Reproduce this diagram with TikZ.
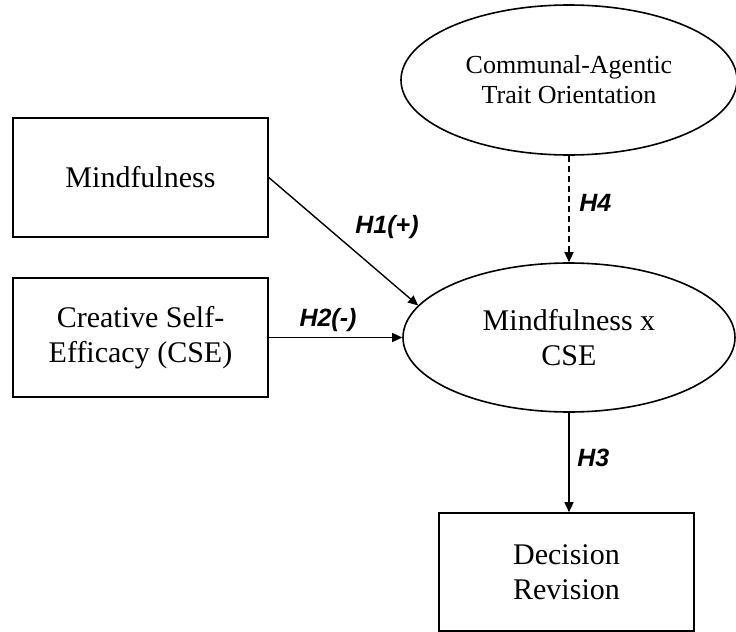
\documentclass[tikz,border=0pt]{standalone}
\usepackage{fontspec}
\setmainfont{Liberation Serif}
\newfontfamily\hypfont{Liberation Sans}
\usetikzlibrary{shapes.geometric,arrows.meta}

\begin{document}
\begin{tikzpicture}[x=0.5pt,y=-0.5pt,
  varbox/.style={draw, line width=0.8pt, minimum width=127.5pt, minimum height=59.5pt, inner sep=0pt, align=center, font=\fontsize{15}{17.5}\selectfont},
  varoval/.style={draw, ellipse, line width=0.8pt, inner sep=0pt, align=center},
  hyp/.style={font=\hypfont\bfseries\itshape\fontsize{12.5}{15}\selectfont, inner sep=0pt},
  link/.style={-{Triangle[length=5pt,width=4.5pt]}, line width=0.7pt}]
\useasboundingbox (0,0) rectangle (736,632);

\node[varoval, minimum width=168pt, minimum height=75pt, font=\fontsize{13}{15}\selectfont] (trait) at (569,80) {Communal-Agentic\\Trait Orientation};
\node[varbox] (mind) at (140.5,177.5) {Mindfulness};
\node[varbox] (cse) at (140.5,337.5) {Creative Self-\\Efficacy (CSE)};
\node[varoval, minimum width=166pt, minimum height=74.5pt, font=\fontsize{15}{17.5}\selectfont] (inter) at (569,337.5) {Mindfulness x\\CSE};
\node[varbox, minimum height=59pt] (dec) at (566.5,572) {Decision\\Revision};

% hypothesis labels
\node[hyp] (h1) at (387,227) {H1(+)};
\node[hyp] (h2) at (328,320) {H2(-)};
\node[hyp, anchor=west] (h4) at (579,203) {H4};
\node[hyp, anchor=west] (h3) at (577,458) {H3};

\draw[link] (mind.east) -- (inter.168);
\draw[link] (cse.east) -- (inter.west);
\draw[link, dash pattern=on 3pt off 2pt] (trait.south) -- (inter.north);
\draw[link] (inter.south) -- (inter.south |- dec.north);
\end{tikzpicture}
\end{document}
